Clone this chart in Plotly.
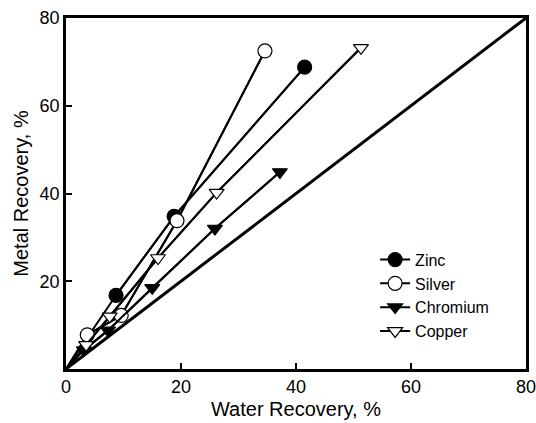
import plotly.graph_objects as go

# Data; each series starts at the origin
zinc_x = [0, 8.7, 18.8, 41.5]
zinc_y = [0, 16.8, 34.8, 68.8]
silver_x = [0, 3.7, 9.6, 19.3, 34.6]
silver_y = [0, 7.8, 12.2, 33.8, 72.5]
chromium_x = [0, 3.1, 7.3, 15.0, 25.9, 37.2]
chromium_y = [0, 4.3, 8.8, 18.5, 32.0, 44.9]
copper_x = [0, 3.5, 7.6, 16.0, 26.2, 51.3]
copper_y = [0, 5.5, 12.0, 25.3, 40.2, 73.2]
diag_x = [0, 80]
diag_y = [0, 80]

series = [
    ("Zinc", zinc_x, zinc_y, "circle", "black", 14),
    ("Silver", silver_x, silver_y, "circle", "white", 14),
    ("Chromium", chromium_x, chromium_y, "triangle-down", "black", 13),
    ("Copper", copper_x, copper_y, "triangle-down", "white", 13),
]

FONT = "Liberation Sans, Arial, sans-serif"

fig = go.Figure()

fig.add_trace(go.Scatter(x=diag_x, y=diag_y, mode="lines",
                         line=dict(color="black", width=3),
                         showlegend=False, hoverinfo="skip"))

# line segments from the origin (no markers)
for name, xs, ys, sym, fill, size in series:
    fig.add_trace(go.Scatter(x=xs, y=ys, mode="lines",
                             line=dict(color="black", width=2),
                             showlegend=False, hoverinfo="skip"))

for name, xs, ys, sym, fill, size in series:
    fig.add_trace(go.Scatter(x=xs[1:], y=ys[1:], mode="lines+markers", name=name,
                             line=dict(color="black", width=2),
                             marker=dict(symbol=sym, size=size, color=fill,
                                         line=dict(color="black", width=1.2))))

axis_common = dict(
    showline=True, linecolor="black", linewidth=2.5, mirror=True,
    ticks="inside", ticklen=6, tickwidth=2, tickcolor="black",
    showgrid=False, zeroline=False, automargin=False,
    ticklabeloverflow="allow",
    tickfont=dict(family=FONT, size=18, color="black"),
)

fig.update_xaxes(range=[0, 80], tickvals=[0, 20, 40, 60, 80],
                 title=dict(text="Water Recovery, %", font=dict(family=FONT, size=20, color="black"),
                            standoff=6),
                 **axis_common)
fig.update_yaxes(range=[0, 80], tickvals=[20, 40, 60, 80],
                 title=dict(text="Metal Recovery, %", font=dict(family=FONT, size=20, color="black"),
                            standoff=6),
                 **axis_common)

fig.update_layout(
    width=536, height=423,
    margin=dict(l=66, r=10, t=18, b=54),
    paper_bgcolor="white", plot_bgcolor="white",
    font=dict(family=FONT, color="black"),
    legend=dict(x=0.672, y=0.36, xanchor="left", yanchor="top",
                bgcolor="rgba(0,0,0,0)", font=dict(family=FONT, size=16, color="black"),
                tracegroupgap=0),
)

fig.write_html("out.html")
